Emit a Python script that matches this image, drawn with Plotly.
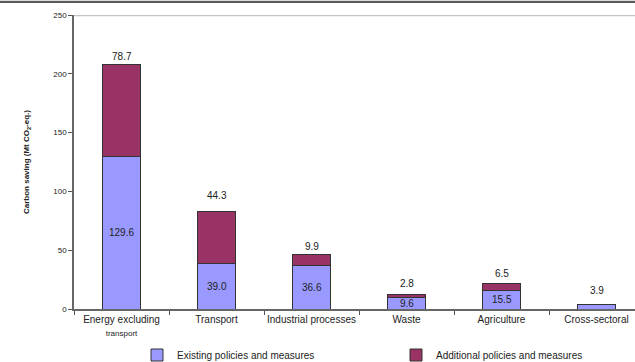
import plotly.graph_objects as go

# Carbon savings by sector, split by policy package (Mt CO2-eq.)
sectors = ["Energy excluding", "Transport", "Industrial processes", "Waste", "Agriculture", "Cross-sectoral"]
sector_labels = [
    "Energy excluding<br><span style='font-size:8px'>transport</span>",
    "Transport", "Industrial processes", "Waste", "Agriculture", "Cross-sectoral",
]
existing = [129.6, 39.0, 36.6, 9.6, 15.5, 3.9]
additional = [78.7, 44.3, 9.9, 2.8, 6.5, 0.0]
y_ticks = [0, 50, 100, 150, 200, 250]

# pixel gap between bar top and the label printed above it
label_gap = [0, 8, 0, 3, 2, 6]

W, H = 635, 362
ML, MR, MT, MB = 74, 0, 15, 53
plot_h = H - MT - MB
plot_w = W - ML - MR

EXIST_COL = "#9999FF"
ADD_COL = "#993366"
FONT = "Liberation Sans, Arial, sans-serif"
LABEL_FONT = dict(family=FONT, size=10, color="#222222")

fig = go.Figure()
fig.add_trace(go.Bar(
    x=sectors, y=existing, name="Existing policies and measures",
    marker=dict(color=EXIST_COL, line=dict(color="#333333", width=1)),
    width=0.4, cliponaxis=False, legend="legend",
))
fig.add_trace(go.Bar(
    x=sectors, y=additional, name="Additional policies and measures",
    marker=dict(color=ADD_COL, line=dict(color="#333333", width=1)),
    width=0.4, cliponaxis=False, legend="legend2",
))

for i, s in enumerate(sectors):
    # existing amount centred in its segment when the segment is tall enough
    if existing[i] >= 5:
        fig.add_annotation(x=s, y=existing[i] / 2, text=f"{existing[i]:.1f}",
                           showarrow=False, yanchor="middle", font=LABEL_FONT)
    # above the stack: additional amount, or the existing amount for a short bar
    top = existing[i] + additional[i]
    txt = f"{additional[i]:.1f}" if additional[i] > 0 else f"{existing[i]:.1f}"
    fig.add_annotation(x=s, y=top, text=txt, showarrow=False, yanchor="bottom",
                       yshift=label_gap[i], font=LABEL_FONT)

# gridline at the top of the value scale
fig.add_shape(type="line", xref="paper", yref="y", x0=0, x1=1, y0=250, y1=250,
              line=dict(color="#C4C4C4", width=2.5), layer="below")
# page rule along the top edge
fig.add_shape(type="line", xref="paper", yref="paper",
              x0=-ML / plot_w, x1=1, y0=(plot_h + MT - 2) / plot_h, y1=(plot_h + MT - 2) / plot_h,
              line=dict(color="#222222", width=1.5))
fig.add_shape(type="line", xref="paper", yref="paper",
              x0=-ML / plot_w, x1=1, y0=(plot_h + MT) / plot_h, y1=(plot_h + MT) / plot_h,
              line=dict(color="#D0D0D0", width=1.5))

legend_common = dict(
    orientation="h", xanchor="left", xref="container", yref="container",
    y=1 - 355 / H, yanchor="middle",
    font=dict(family=FONT, size=10, color="#222222"),
    bgcolor="rgba(0,0,0,0)", borderwidth=0, itemwidth=30,
)

fig.update_layout(
    width=W, height=H,
    margin=dict(l=ML, r=MR, t=MT, b=MB, pad=0),
    barmode="stack",
    plot_bgcolor="white", paper_bgcolor="white",
    font=dict(family=FONT, size=10, color="#222222"),
    showlegend=True,
    legend=dict(x=137 / W, **legend_common),
    legend2=dict(x=396 / W, **legend_common),
    xaxis=dict(
        type="category", range=[-0.5, -0.5 + plot_w / 95.0],
        tickmode="array", tickvals=sectors, ticktext=sector_labels, tickangle=0,
        tickson="boundaries", ticks="outside", ticklen=4, tickcolor="#555555",
        showline=True, linecolor="#666666", linewidth=1.5,
        showgrid=False, zeroline=False, automargin=False,
        tickfont=dict(family=FONT, size=10, color="#222222"),
    ),
    yaxis=dict(
        range=[0, 250], tickvals=y_ticks,
        ticks="outside", ticklen=4, tickcolor="#555555",
        showline=True, linecolor="#666666", linewidth=1.5,
        showgrid=False, zeroline=False, automargin=False,
        tickfont=dict(family=FONT, size=8, color="#222222"),
        title=dict(text="<b>Carbon saving (Mt CO<sub>2</sub>-eq.)</b>",
                   font=dict(family=FONT, size=8, color="#222222"), standoff=22),
    ),
)

fig.write_html("out.html")
